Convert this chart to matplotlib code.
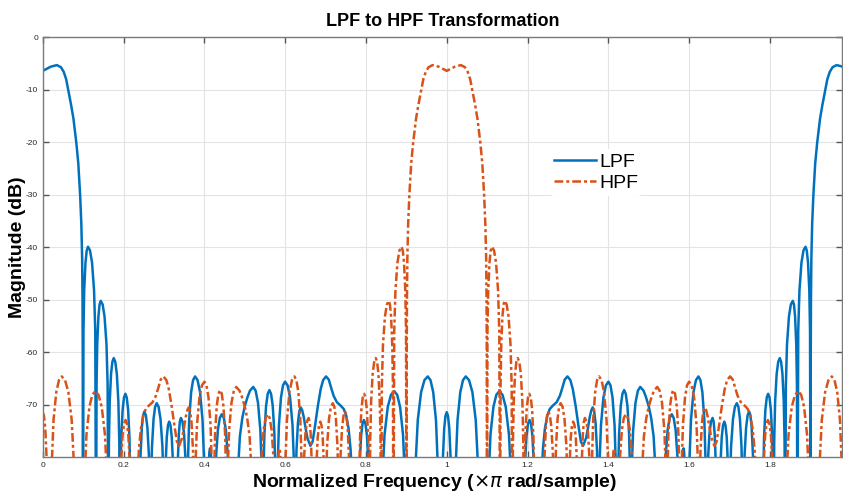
import numpy as np
import matplotlib
matplotlib.use('Agg')
import matplotlib.pyplot as plt

plt.rcParams['font.family'] = ['Liberation Sans', 'DejaVu Sans']
plt.rcParams['axes.unicode_minus'] = False

# LPF magnitude response for 0..1 (x pi rad/sample);
# the response of a real filter is mirrored about 1, the HPF is the LPF shifted by 1
freq_half = [
    # main lobe
    0.000, 0.010, 0.020, 0.035, 0.045, 0.052, 0.058, 0.063, 0.070, 0.076,
    0.083, 0.088, 0.0925, 0.0955, 0.0975, 0.0985, 0.099, 0.0995,
    # sidelobes
    0.1008, 0.1026, 0.1058, 0.1089, 0.112, 0.117, 0.122, 0.127, 0.130, 0.132,
    0.1332, 0.1349, 0.1378, 0.1406, 0.1435, 0.1483, 0.153, 0.1578, 0.1606, 0.1625,
    0.1638, 0.1658, 0.1691, 0.1724, 0.1757, 0.1795, 0.1834, 0.1872, 0.1895, 0.191,
    0.1924, 0.1944, 0.1978, 0.2011, 0.2045, 0.2079, 0.2113, 0.2146, 0.2167, 0.218,
    0.239, 0.2403, 0.2421, 0.2453, 0.2484, 0.2515, 0.2553, 0.259, 0.2628, 0.265, 0.2665,
    0.2681, 0.2704, 0.2743, 0.2781, 0.282, 0.2868, 0.2915, 0.2963, 0.2991, 0.301,
    0.3022, 0.304, 0.307, 0.310, 0.313, 0.3162, 0.3194, 0.3226, 0.3245, 0.3258,
    0.3317, 0.3327, 0.3343, 0.3369, 0.3394, 0.342, 0.3459, 0.3498, 0.3536, 0.356, 0.3575,
    0.3595, 0.3624, 0.3673, 0.3721, 0.377, 0.3832, 0.3894, 0.3955, 0.3992, 0.4017,
    0.408, 0.4095, 0.411, 0.4125, 0.414, 0.4159, 0.4178, 0.4196, 0.4215,
    0.424, 0.4259, 0.4288, 0.4335, 0.4383, 0.443, 0.4482, 0.4533, 0.4585, 0.4615, 0.4636,
    0.478, 0.481, 0.484, 0.488, 0.494, 0.500, 0.507, 0.513, 0.521,
    0.5269, 0.5328, 0.5387, 0.5422, 0.5446,
    0.5462, 0.5487, 0.5528, 0.5569, 0.561, 0.5651, 0.5693, 0.5734, 0.5759, 0.5775,
    0.5795, 0.5815, 0.5846, 0.5897, 0.5947, 0.5998, 0.606, 0.6122, 0.6183, 0.622, 0.6245,
    0.6259, 0.628, 0.6316, 0.6351, 0.6386, 0.642, 0.646, 0.650, 0.655, 0.6625,
    0.668, 0.674, 0.681, 0.688, 0.694, 0.7012, 0.708, 0.714, 0.720, 0.728,
    0.738, 0.745, 0.751, 0.757, 0.762, 0.766, 0.769,
    0.781, 0.7824, 0.7845, 0.788, 0.7915, 0.795, 0.7988, 0.8025, 0.8063, 0.8085, 0.810,
    0.838, 0.8412, 0.846, 0.854, 0.862, 0.870, 0.8773, 0.8845, 0.8918, 0.8961, 0.899,
    0.920, 0.9233, 0.9283, 0.9365, 0.9448, 0.953, 0.9598, 0.9665, 0.9733, 0.9773, 0.980,
    0.9876, 0.9888, 0.9907, 0.9938, 0.9969, 1.000,
]
mag_half = [
    -6.4, -6.0, -5.6, -5.3, -5.7, -6.6, -8.0, -10.0, -12.8, -15.5,
    -20.0, -24.0, -30.0, -35.5, -42.0, -50.0, -60.0, -100,
    -55.9, -48.2, -42.9, -40.6, -39.9, -40.6, -42.9, -48.2, -55.9, -100,
    -66.2, -58.5, -53.2, -50.9, -50.2, -50.9, -53.2, -58.5, -66.2, -100,
    -77.1, -69.4, -64.1, -61.8, -61.1, -61.8, -64.1, -69.4, -77.1, -100,
    -83.9, -76.2, -70.9, -68.6, -67.9, -68.6, -70.9, -76.2, -83.9, -100,
    -100, -87.3, -79.6, -74.3, -72.0, -71.3, -72.0, -74.3, -79.6, -87.3, -100,
    -85.7, -78.0, -72.7, -70.4, -69.7, -70.4, -72.7, -78.0, -85.7, -100,
    -89.2, -81.5, -76.2, -73.9, -73.2, -73.9, -76.2, -81.5, -89.2, -100,
    -100, -88.5, -80.8, -75.5, -73.2, -72.5, -73.2, -75.5, -80.8, -88.5, -100,
    -80.6, -72.9, -67.6, -65.3, -64.6, -65.3, -67.6, -72.9, -80.6, -100,
    -100, -86.6, -81.3, -79.0, -78.3, -79.0, -81.3, -86.6, -100,
    -100, -87.8, -80.1, -74.8, -72.5, -71.8, -72.5, -74.8, -80.1, -87.8, -100,
    -100, -88.0, -81.5, -76.0, -72.5, -70.3, -68.5, -67.3, -66.6,
    -67.3, -69.6, -74.9, -82.6, -100,
    -83.2, -75.5, -70.2, -67.9, -67.2, -67.9, -70.2, -75.5, -83.2, -100,
    -100, -81.6, -73.9, -68.6, -66.3, -65.6, -66.3, -68.6, -73.9, -81.6, -100,
    -86.5, -78.8, -73.5, -71.2, -70.5, -71.0, -72.3, -74.2, -76.3, -77.8,
    -77.0, -74.0, -70.2, -67.0, -65.3, -64.6, -65.2, -66.8, -68.3, -69.5,
    -70.2, -70.8, -72.0, -74.5, -78.5, -85.0, -100,
    -100, -88.9, -81.2, -75.9, -73.6, -72.9, -73.6, -75.9, -81.2, -88.9, -100,
    -100, -83.4, -75.7, -70.4, -68.1, -67.4, -68.1, -70.4, -75.7, -83.4, -100,
    -100, -80.6, -72.9, -67.6, -65.3, -64.6, -65.3, -67.6, -72.9, -80.6, -100,
    -100, -87.4, -79.7, -74.4, -72.1, -71.4,
]

xticks = [0, 0.2, 0.4, 0.6, 0.8, 1, 1.2, 1.4, 1.6, 1.8]
xticklabels = ['0', '0.2', '0.4', '0.6', '0.8', '1', '1.2', '1.4', '1.6', '1.8']
yticks = [0, -10, -20, -30, -40, -50, -60, -70]

fh = np.array(freq_half)
mh = np.array(mag_half)
f_lpf = np.concatenate([fh, 2 - fh[-2::-1]])
m_lpf = np.concatenate([mh, mh[-2::-1]])
f_hpf = np.concatenate([1 - fh[::-1], 1 + fh[1:]])
m_hpf = np.concatenate([mh[::-1], mh[1:]])

fig = plt.figure(figsize=(8.43, 4.93), dpi=100)
ax = fig.add_axes([0.0507, 0.0724, 0.9482, 0.852])

ax.plot(f_lpf, m_lpf, color='#0072BD', lw=1.8, label='LPF')
ax.plot(f_hpf, m_hpf, color='#D95319', lw=1.8, linestyle=(0, (3.5, 1.2, 1.2, 1.2)), label='HPF')

ax.set_xlim(0, 1.9785)
ax.set_ylim(-80, 0)
ax.set_xticks(xticks)
ax.set_xticklabels(xticklabels)
ax.set_yticks(yticks)
ax.tick_params(direction='in', top=True, right=True, labelsize=6, colors='#555555',
               labelcolor='#262626', length=4, width=1)
ax.grid(True, color='#e3e3e3', lw=0.8)
ax.set_axisbelow(True)
for s in ax.spines.values():
    s.set_color('#7a7a7a')
    s.set_linewidth(1)

ax.set_title('LPF to HPF Transformation', fontsize=13, fontweight='bold', pad=8)
ax.set_xlabel(r'Normalized Frequency ($\times\pi$ rad/sample)', fontsize=14, fontweight='bold')
ax.set_ylabel('Magnitude (dB)', fontsize=14, fontweight='bold')
ax.xaxis.set_label_coords(0.49, -0.034)
ax.yaxis.set_label_coords(-0.021, 0.5)

leg = ax.legend(loc='upper left', bbox_to_anchor=(0.622, 0.757), fontsize=14, frameon=True,
                handlelength=2.2, handletextpad=0.15, labelspacing=0.2, borderpad=0.2)
leg.get_frame().set_edgecolor('none')
leg.get_frame().set_facecolor('white')
leg.get_frame().set_alpha(1)

fig.savefig('out.png', dpi=100)
